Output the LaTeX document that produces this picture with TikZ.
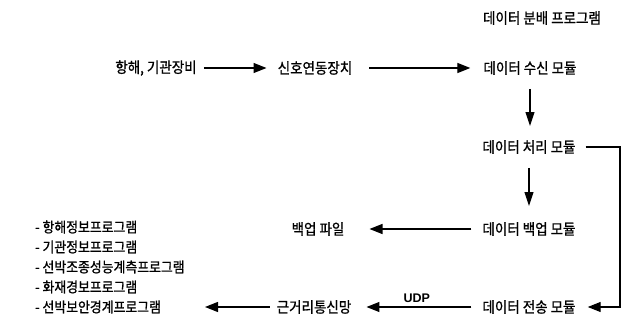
\documentclass[tikz,border=0pt]{standalone}
\usepackage{fontspec}
\setmainfont{Noto Sans CJK KR}[FakeBold=1.0,FakeStretch=0.9]
\newfontfamily\latinsans{Liberation Sans}
\usetikzlibrary{arrows.meta}
\tikzset{
  lbl/.style={inner sep=3pt, font=\fontsize{15}{16}\selectfont},
  litem/.style={inner sep=3pt, anchor=west, font=\fontsize{14.3}{15}\selectfont},
  conn/.style={line width=1.3pt, -{Triangle[length=13pt,width=10pt]}},
  vconn/.style={line width=1.1pt, -{Triangle[length=14pt,width=9pt]}}
}
\begin{document}
\begin{tikzpicture}[x=1pt,y=-1pt]
\useasboundingbox (0,0) rectangle (635,329);
\node[lbl] (title) at (542,18) {데이터 분배 프로그램};
\node[lbl] (a) at (156,68) {항해, 기관장비};
\node[lbl] (b) at (315,68) {신호연동장치};
\node[lbl] (c) at (530,68) {데이터 수신 모듈};
\node[lbl] (d) at (529,147) {데이터 처리 모듈};
\node[lbl] (e) at (529,229) {데이터 백업 모듈};
\node[lbl] (f) at (318,229) {백업 파일};
\node[lbl] (g) at (529,307) {데이터 전송 모듈};
\node[lbl] (h) at (314,307) {근거리통신망};
\node[litem] (l1) at (32,227) {- 항해정보프로그램};
\node[litem] (l2) at (32,247) {- 기관정보프로그램};
\node[litem] (l3) at (32,267) {- 선박조종성능계측프로그램};
\node[litem] (l4) at (32,287) {- 화재경보프로그램};
\node[litem] (l5) at (32,307) {- 선박보안경계프로그램};
\coordinate (r) at (620,147);

\draw[conn, shorten <=4pt, shorten >=8pt] (a.east) -- (b.west);
\draw[conn, shorten <=14pt, shorten >=10pt] (b.east) -- (c.west);
\draw[vconn, shorten <=11pt, shorten >=11pt] (c.south) -- (c.south |- d.north);
\draw[vconn, shorten <=11pt, shorten >=13pt] (d.south) -- (d.south |- e.north);
\draw[conn, shorten <=8pt, shorten >=22pt] (e.west) -- (f.east);
\draw[conn, shorten <=8pt, shorten >=12pt] (g.west) -- node[above=0pt, font=\latinsans\bfseries\fontsize{12.5}{13}\selectfont] (udp) {UDP} (h.east);
\draw[conn, shorten <=4pt] (h.west) -- (l5.east -| 205,0);
\draw[line width=1.2pt, shorten <=7pt, shorten >=9pt, -{Triangle[length=13pt,width=10pt]}] (d.east) -- (r) |- (g.east);
\end{tikzpicture}
\end{document}
